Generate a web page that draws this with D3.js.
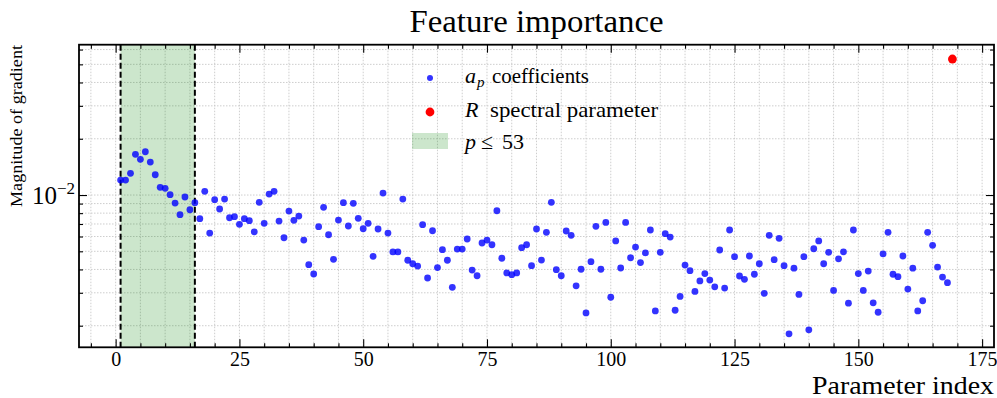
<!DOCTYPE html>
<html>
<head>
<meta charset="utf-8">
<script src="https://cdn.jsdelivr.net/npm/d3@7"></script>
<style>
body { margin: 0; background: #fff; }
svg text { font-family: "Liberation Serif", "DejaVu Serif", serif; fill: #000; }
</style>
</head>
<body>
<svg id="chart" width="997" height="398"></svg>
<script>
// gradient magnitude of each a_p coefficient, p = 1..168
var gradA = [
  0.01203, 0.01203, 0.01306, 0.01651, 0.01552, 0.01704, 0.01501, 0.01284, 0.01099, 0.01086,
  0.01004, 0.00906, 0.00785, 0.00976, 0.00834, 0.00910, 0.00747, 0.01047, 0.00626, 0.00944,
  0.00842, 0.00952, 0.00756, 0.00766, 0.00697, 0.00747, 0.00729, 0.00636, 0.00914, 0.00706,
  0.01012, 0.01047, 0.00726, 0.00591, 0.00821, 0.00732, 0.00772, 0.00574, 0.00424, 0.00378,
  0.00677, 0.00860, 0.00613, 0.00453, 0.00735, 0.00910, 0.00683, 0.00903, 0.00751, 0.00660,
  0.00706, 0.00470, 0.00658, 0.01025, 0.00626, 0.00496, 0.00496, 0.00952, 0.00448, 0.00429,
  0.00417, 0.00694, 0.00360, 0.00644, 0.00409, 0.00510, 0.00448, 0.00321, 0.00514, 0.00514,
  0.00582, 0.00397, 0.00370, 0.00554, 0.00574, 0.00542, 0.00824, 0.00459, 0.00383, 0.00375,
  0.00383, 0.00523, 0.00542, 0.00419, 0.00658, 0.00449, 0.00632, 0.00914, 0.00399, 0.00370,
  0.00642, 0.00609, 0.00327, 0.00401, 0.00234, 0.00440, 0.00680, 0.00401, 0.00714, 0.00284,
  0.00568, 0.00407, 0.00714, 0.00462, 0.00527, 0.00435, 0.00490, 0.00650, 0.00240, 0.00494,
  0.00621, 0.00596, 0.00242, 0.00287, 0.00422, 0.00394, 0.00305, 0.00347, 0.00380, 0.00351,
  0.00323, 0.00508, 0.00318, 0.00650, 0.00468, 0.00369, 0.00354, 0.00472, 0.00377, 0.00429,
  0.00298, 0.00609, 0.00451, 0.00587, 0.00419, 0.00181, 0.00406, 0.00294, 0.00468, 0.00190,
  0.00516, 0.00568, 0.00429, 0.00494, 0.00309, 0.00456, 0.00497, 0.00264, 0.00650, 0.00380,
  0.00309, 0.00392, 0.00265, 0.00236, 0.00485, 0.00632, 0.00377, 0.00366, 0.00472, 0.00314,
  0.00406, 0.00240, 0.00272, 0.00632, 0.00538, 0.00412, 0.00364, 0.00340
];
var pIndex = d3.range(1, gradA.length + 1);

// R spectral parameter
var rIndex = 169;
var rValue = 0.0534;

// shaded range p <= 53
var spanFrom = 1;
var spanTo = 16;

var xMajor = [0, 25, 50, 75, 100, 125, 150, 175];
var xMinor = d3.range(-5, 177, 5).filter(function(d){ return d % 25 != 0; });
var yMajor = [0.01];
var yMinor = [0.002, 0.003, 0.004, 0.005, 0.006, 0.007, 0.008, 0.009, 0.02, 0.03, 0.04, 0.05, 0.06];

var legendLabels = ["coefficients", "spectral parameter", "53"];

var SERIF = '"Liberation Serif", "DejaVu Serif", serif';
var L = 79, R = 994, T = 44.7, B = 347.3;
var svg = d3.select('#chart');

var x = d3.scaleLinear().domain([-7.4, 177.4]).range([L, R]);
var y = d3.scaleLog().domain([0.001533, 0.0637]).range([B, T]);

// grid
var grid = svg.append('g')
	.attr('stroke', '#c8c8c8').attr('stroke-width', 0.9).attr('stroke-dasharray', '1.5,1.5');
grid.selectAll('line.vx').data(xMajor.concat(xMinor)).enter().append('line')
	.attr('x1', function(d){ return x(d); }).attr('x2', function(d){ return x(d); })
	.attr('y1', T).attr('y2', B);
grid.selectAll('line.hy').data(yMajor.concat(yMinor)).enter().append('line')
	.attr('y1', function(d){ return y(d); }).attr('y2', function(d){ return y(d); })
	.attr('x1', L).attr('x2', R);

// shaded span and its edges
svg.append('rect')
	.attr('x', x(spanFrom)).attr('width', x(spanTo) - x(spanFrom))
	.attr('y', T).attr('height', B - T)
	.attr('fill', 'green').attr('fill-opacity', 0.2);
svg.selectAll('line.edge').data([spanFrom, spanTo]).enter().append('line')
	.attr('x1', function(d){ return x(d); }).attr('x2', function(d){ return x(d); })
	.attr('y1', T).attr('y2', B)
	.attr('stroke', '#000').attr('stroke-width', 2).attr('stroke-dasharray', '6,3');

// points
svg.append('g').selectAll('circle').data(gradA).enter().append('circle')
	.attr('cx', function(d, i){ return x(pIndex[i]); })
	.attr('cy', function(d){ return y(d); })
	.attr('r', 3.4)
	.attr('fill', 'blue').attr('fill-opacity', 0.8);
svg.append('circle')
	.attr('cx', x(rIndex)).attr('cy', y(rValue)).attr('r', 4.4)
	.attr('fill', 'red');

// axes, ticks pointing inward on all four sides
function styleAxis(g){
	g.attr('font-family', SERIF);
	g.select('.domain').remove();
	g.selectAll('.tick line').attr('stroke', '#000').attr('stroke-width', 1.1);
}
svg.append('g').attr('transform', 'translate(0,' + B + ')')
	.call(d3.axisBottom(x).tickValues(xMajor).tickSize(-8).tickPadding(5).tickFormat(d3.format('d')))
	.call(styleAxis)
	.selectAll('text').style('font-family', SERIF).style('font-size', '20px');
svg.append('g').attr('transform', 'translate(0,' + B + ')')
	.call(d3.axisBottom(x).tickValues(xMinor).tickSize(-4).tickFormat('')).call(styleAxis);
svg.append('g').attr('transform', 'translate(0,' + T + ')')
	.call(d3.axisTop(x).tickValues(xMajor).tickSize(-8).tickFormat('')).call(styleAxis);
svg.append('g').attr('transform', 'translate(0,' + T + ')')
	.call(d3.axisTop(x).tickValues(xMinor).tickSize(-4).tickFormat('')).call(styleAxis);
svg.append('g').attr('transform', 'translate(' + L + ',0)')
	.call(d3.axisLeft(y).tickValues(yMajor).tickSize(-8).tickFormat('')).call(styleAxis);
svg.append('g').attr('transform', 'translate(' + L + ',0)')
	.call(d3.axisLeft(y).tickValues(yMinor).tickSize(-4).tickFormat('')).call(styleAxis);
svg.append('g').attr('transform', 'translate(' + R + ',0)')
	.call(d3.axisRight(y).tickValues(yMajor).tickSize(-8).tickFormat('')).call(styleAxis);
svg.append('g').attr('transform', 'translate(' + R + ',0)')
	.call(d3.axisRight(y).tickValues(yMinor).tickSize(-4).tickFormat('')).call(styleAxis);

// y tick label 10^-2
yMajor.forEach(function(v){
	var t = svg.append('text').attr('x', L - 4).attr('y', y(v) + 9)
		.attr('text-anchor', 'end').style('font-family', SERIF).style('font-size', '25px');
	t.append('tspan').text('10');
	t.append('tspan').attr('dy', -10).style('font-size', '17px').text('\u22122');
});

// frame
svg.append('rect').attr('x', L).attr('y', T).attr('width', R - L).attr('height', B - T)
	.attr('fill', 'none').attr('stroke', '#000').attr('stroke-width', 1.8);

// titles
svg.append('text').attr('x', (L + R) / 2).attr('y', 32).attr('text-anchor', 'middle')
	.attr('textLength', 254).attr('lengthAdjust', 'spacingAndGlyphs')
	.style('font-family', SERIF).style('font-size', '31px').text('Feature importance');
svg.append('text').attr('x', R).attr('y', 394).attr('text-anchor', 'end')
	.attr('textLength', 182).attr('lengthAdjust', 'spacingAndGlyphs')
	.style('font-family', SERIF).style('font-size', '25px').text('Parameter index');
svg.append('text').attr('transform', 'translate(22,126) rotate(-90)').attr('text-anchor', 'middle')
	.attr('textLength', 162).attr('lengthAdjust', 'spacingAndGlyphs')
	.style('font-family', SERIF).style('font-size', '16px').text('Magnitude of gradient');

// legend
var lg = svg.append('g').attr('font-family', SERIF);
lg.append('circle').attr('cx', 430).attr('cy', 78).attr('r', 3)
	.attr('fill', 'blue').attr('fill-opacity', 0.8);
lg.append('circle').attr('cx', 430).attr('cy', 112).attr('r', 4.4).attr('fill', 'red');
lg.append('rect').attr('x', 412).attr('y', 133).attr('width', 36).attr('height', 16)
	.attr('fill', 'green').attr('fill-opacity', 0.2);

function legendText(yy){
	return lg.append('text').attr('y', yy).style('font-family', SERIF).style('font-size', '22px');
}
var t1 = legendText(83);
t1.append('tspan').attr('x', 465).style('font-style', 'italic').text('a');
t1.append('tspan').attr('x', 477).attr('dy', 4).style('font-style', 'italic').style('font-size', '15px').text('p');
t1.append('tspan').attr('x', 492).attr('dy', -4)
	.attr('textLength', 97).attr('lengthAdjust', 'spacingAndGlyphs').text(legendLabels[0]);

var t2 = legendText(117);
t2.append('tspan').attr('x', 465).style('font-style', 'italic').text('R');
t2.append('tspan').attr('x', 490)
	.attr('textLength', 168).attr('lengthAdjust', 'spacingAndGlyphs').text(legendLabels[1]);

var t3 = legendText(149);
t3.append('tspan').attr('x', 465).style('font-style', 'italic').text('p');
t3.append('tspan').attr('x', 481).text('\u2264');
t3.append('tspan').attr('x', 502).text(legendLabels[2]);
</script>
</body>
</html>
